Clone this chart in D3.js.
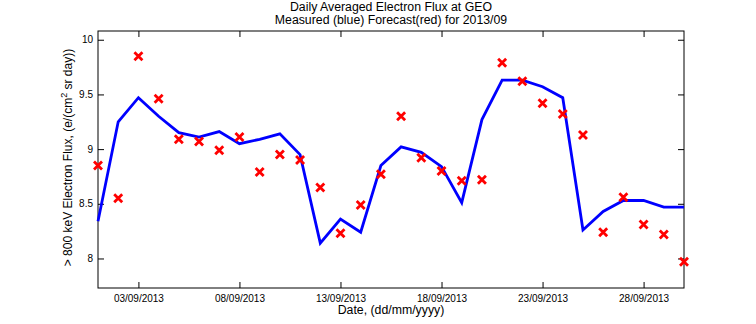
<!DOCTYPE html>
<html>
<head>
<meta charset="utf-8">
<script src="https://cdn.jsdelivr.net/npm/d3@7"></script>
<style>
  body { margin: 0; background: #fff; }
  text { font-family: "Liberation Sans", Arial, sans-serif; }
</style>
</head>
<body>
<div id="vis-holder"></div>
<script>
// Chart size and plot box
const width = 756;
const height = 324;
const margin = { top: 31, right: 72, bottom: 36, left: 98 };

// Data: day of September 2013, measured (blue) and forecast (red)
const days = d3.range(1, 31);
const measured = [8.34, 9.25, 9.47, 9.30, 9.15, 9.11, 9.16, 9.05, 9.09, 9.14,
                  8.95, 8.14, 8.36, 8.24, 8.85, 9.02, 8.97, 8.84, 8.51, 9.27,
                  9.63, 9.63, 9.57, 9.47, 8.26, 8.43, 8.53, 8.53, 8.47, 8.47];
const forecast = [8.85, 8.55, 9.85, 9.46, 9.09, 9.07, 8.99, 9.11, 8.79, 8.95,
                  8.90, 8.65, 8.23, 8.49, 8.77, 9.30, 8.92, 8.80, 8.71, 8.72,
                  9.79, 9.62, 9.42, 9.32, 9.13, 8.24, 8.56, 8.31, 8.22, 7.97];
const xTickDays = [3, 8, 13, 18, 23, 28];
const xTickLabels = ["03/09/2013", "08/09/2013", "13/09/2013", "18/09/2013", "23/09/2013", "28/09/2013"];
const yTicks = [8, 8.5, 9, 9.5, 10];

const svg = d3.select("#vis-holder")
    .append("svg")
    .attr("width", width)
    .attr("height", height);

// Scales
const x = d3.scaleLinear()
    .domain([1, 30])
    .range([margin.left, width - margin.right]);

const y = d3.scaleLinear()
    .domain([7.73, 10.08])
    .range([height - margin.bottom, margin.top]);

const midX = (margin.left + width - margin.right) / 2;

// Titles
svg.append("text")
    .attr("x", midX)
    .attr("y", 11)
    .attr("text-anchor", "middle")
    .attr("font-size", "12.3px")
    .text("Daily Averaged Electron Flux at GEO");

svg.append("text")
    .attr("x", midX)
    .attr("y", 24)
    .attr("text-anchor", "middle")
    .attr("font-size", "12.3px")
    .text("Measured (blue) Forecast(red) for 2013/09");

// Bottom axis with labels, ticks inward
const tickFmt = (d, i) => xTickLabels[i];
svg.append("g")
    .attr("transform", `translate(0,${height - margin.bottom})`)
    .call(d3.axisBottom(x).tickValues(xTickDays).tickSizeInner(-6).tickSizeOuter(0).tickPadding(7).tickFormat(tickFmt))
    .attr("font-size", "10px")
    .call((g) => g.select(".domain").remove());

// Top axis ticks
svg.append("g")
    .attr("transform", `translate(0,${margin.top})`)
    .call(d3.axisTop(x).tickValues(xTickDays).tickSizeInner(-6).tickSizeOuter(0).tickFormat(""))
    .call((g) => g.select(".domain").remove());

// Left axis
svg.append("g")
    .attr("transform", `translate(${margin.left},0)`)
    .call(d3.axisLeft(y).tickValues(yTicks).tickSizeInner(-6).tickSizeOuter(0).tickPadding(5).tickFormat(d3.format("")))
    .attr("font-size", "10px")
    .call((g) => g.select(".domain").remove());

// Right axis ticks
svg.append("g")
    .attr("transform", `translate(${width - margin.right},0)`)
    .call(d3.axisRight(y).tickValues(yTicks).tickSizeInner(-6).tickSizeOuter(0).tickFormat(""))
    .call((g) => g.select(".domain").remove());

// Plot box
svg.append("rect")
    .attr("x", margin.left)
    .attr("y", margin.top)
    .attr("width", width - margin.left - margin.right)
    .attr("height", height - margin.top - margin.bottom)
    .attr("fill", "none")
    .attr("stroke", "black")
    .attr("stroke-width", 1);

// Measured line
const line = d3.line()
    .x((d, i) => x(days[i]))
    .y((d) => y(d));

svg.append("path")
    .datum(measured)
    .attr("d", line)
    .attr("fill", "none")
    .attr("stroke", "#0000ff")
    .attr("stroke-width", 2.8)
    .attr("stroke-linejoin", "miter");

// Forecast crosses
const s = 4;
svg.selectAll(".fc")
    .data(forecast)
    .enter()
    .append("path")
    .attr("class", "fc")
    .attr("transform", (d, i) => `translate(${x(days[i])},${y(d)})`)
    .attr("d", `M${-s},${-s}L${s},${s}M${-s},${s}L${s},${-s}`)
    .attr("stroke", "#ff0000")
    .attr("stroke-width", 2.8);

// Axis labels
svg.append("text")
    .attr("x", midX)
    .attr("y", 314)
    .attr("text-anchor", "middle")
    .attr("font-size", "12.3px")
    .text("Date, (dd/mm/yyyy)");

const yl = svg.append("text")
    .attr("transform", `translate(72,${(margin.top + height - margin.bottom) / 2 - 2}) rotate(-90)`)
    .attr("text-anchor", "middle")
    .attr("font-size", "12px");
yl.append("tspan").text("> 800 keV Electron Flux, (e/(cm");
yl.append("tspan").attr("dy", -5).attr("font-size", "9px").text("2");
yl.append("tspan").attr("dy", 5).text(" sr day))");
</script>
</body>
</html>
